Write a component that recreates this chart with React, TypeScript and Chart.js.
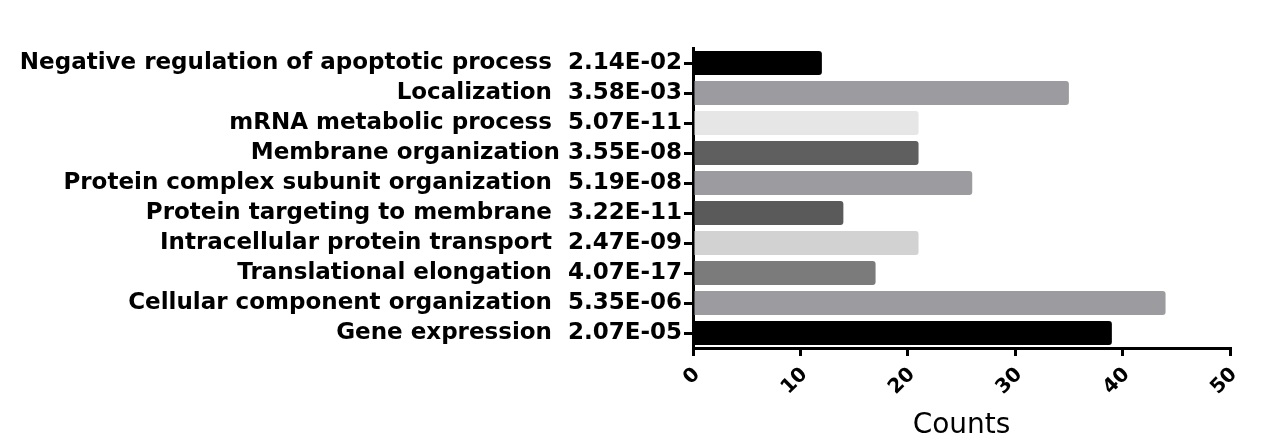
import React, { useEffect, useRef } from "react";
import { Chart, registerables } from "chart.js";

Chart.register(...registerables);

const terms = [
  "Negative regulation of apoptotic process",
  "Localization",
  "mRNA metabolic process",
  "Membrane organization",
  "Protein complex subunit organization",
  "Protein targeting to membrane",
  "Intracellular protein transport",
  "Translational elongation",
  "Cellular component organization",
  "Gene expression",
];
const pValues = [
  "2.14E-02",
  "3.58E-03",
  "5.07E-11",
  "3.55E-08",
  "5.19E-08",
  "3.22E-11",
  "2.47E-09",
  "4.07E-17",
  "5.35E-06",
  "2.07E-05",
];
const counts = [12, 35, 21, 21, 26, 14, 21, 17, 44, 39];
const barColors = [
  "#000000",
  "#9c9ca0",
  "#e6e6e6",
  "#5f5f5f",
  "#9c9ca0",
  "#5a5a5a",
  "#d2d2d2",
  "#7b7b7b",
  "#9c9ca0",
  "#000000",
];
const xTicks = [0, 10, 20, 30, 40, 50];

export default function App() {
  const ref = useRef<HTMLCanvasElement>(null);
  useEffect(() => {
    document.body.style.margin = "0";
    const labels = terms.map((t, i) => (t === "Membrane organization" ? `${t} ${pValues[i]}` : `${t}  ${pValues[i]}`));
    const chart = new Chart(ref.current!, {
      type: "bar",
      data: {
        labels,
        datasets: [
          {
            data: counts,
            backgroundColor: barColors,
            borderWidth: 0,
            borderRadius: 3,
            borderSkipped: "start",
            categoryPercentage: 0.8,
            barPercentage: 1,
          },
        ],
      },
      options: {
        indexAxis: "y",
        animation: false,
        responsive: false,
        maintainAspectRatio: false,
        layout: { padding: { top: 48, right: 44, left: 0, bottom: 0 } },
        plugins: { legend: { display: false }, tooltip: { enabled: false } },
        scales: {
          x: {
            min: 0,
            max: 50,
            afterBuildTicks: (s: any) => {
              s.ticks = xTicks.map((v) => ({ value: v }));
            },
            afterFit: (s: any) => {
              s.height = 95;
            },
            border: { display: true, color: "#000", width: 3 },
            grid: { drawOnChartArea: false, drawTicks: true, tickLength: 8, color: "#000", lineWidth: 3 },
            ticks: {
              minRotation: 45,
              maxRotation: 45,
              padding: 7,
              labelOffset: 4,
              color: "#000",
              font: { family: "DejaVu Sans, sans-serif", size: 20, weight: "bold" },
            },
            title: {
              display: true,
              text: "Counts",
              color: "#000",
              padding: { top: 0, bottom: 0 },
              font: { family: "DejaVu Sans, sans-serif", size: 28 },
            },
          },
          y: {
            afterFit: (s: any) => {
              s.width = 693;
            },
            border: { display: true, color: "#000", width: 3 },
            grid: { offset: false, drawOnChartArea: false, drawTicks: true, tickLength: 9, color: "#000", lineWidth: 3 },
            ticks: {
              padding: 2,
              color: "#000",
              autoSkip: false,
              font: { family: "DejaVu Sans, sans-serif", size: 23, weight: "bold" },
            },
          },
        },
      },
    });
    return () => chart.destroy();
  }, []);
  return (
    <div style={{ width: 1274, height: 443 }}>
      <canvas ref={ref} width={1274} height={443} style={{ display: "block" }} />
    </div>
  );
}
